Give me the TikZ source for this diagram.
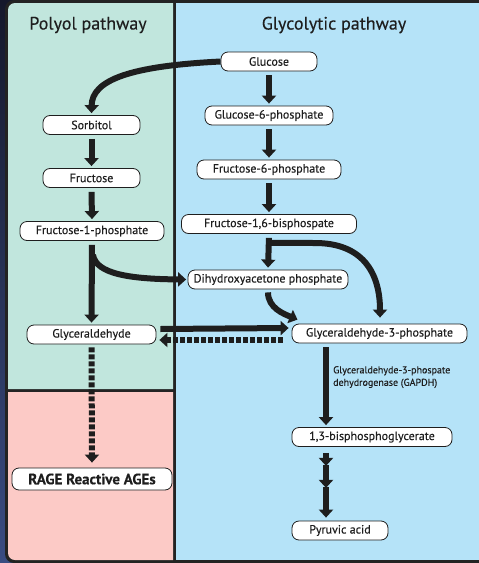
\documentclass[tikz,border=0pt]{standalone}
\usepackage{fontspec}
\setmainfont{PT Sans}[FakeBold=0.3]
\usetikzlibrary{arrows.meta,calc}
\definecolor{navytop}{HTML}{15182B}
\definecolor{navybot}{HTML}{3A4C82}
\definecolor{framec}{HTML}{232323}
\definecolor{polyolc}{HTML}{C1E6DD}
\definecolor{agec}{HTML}{FCCAC6}
\definecolor{glycc}{HTML}{B5E3F8}
\definecolor{inkc}{HTML}{1E1E1E}
\begin{document}
\begin{tikzpicture}[x=1pt,y=-1pt,
  pill/.style={draw=inkc, line width=0.8pt, fill=white, rounded corners=7pt,
    minimum height=19pt, inner sep=0pt, text=inkc, font=\fontsize{12}{13}\selectfont},
  arr/.style={draw=inkc, line width=6pt, -{Triangle[length=8pt,width=14pt]}},
  dasharr/.style={arr, dash pattern=on 5pt off 2pt},
  ttl/.style={text=inkc, font=\fontsize{18}{20}\selectfont, inner sep=0pt},
  lbl/.style={text=inkc, font=\fontsize{10}{12.5}\selectfont, align=left, inner sep=0pt, anchor=north west}]
\useasboundingbox (0,0) rectangle (479,563);
% background and panels
\shade[top color=navytop, bottom color=navybot] (0,0) rectangle (479,563);
\fill[framec, rounded corners=9pt] (5,0) rectangle (490,563);
\fill[polyolc] (8,389) [rounded corners=7pt] -- (8,3) [sharp corners] -- (173,3) -- (173,389) -- cycle;
\fill[agec] (8,392) [rounded corners=7pt] -- (8,560) [sharp corners] -- (173,560) -- (173,392) -- cycle;
\fill[glycc] (176,3) rectangle (479,560);
% titles
\node[ttl] (tpol) at (88,25) {Polyol pathway};
\node[ttl] (tgly) at (334,25) {Glycolytic pathway};
% glycolytic nodes
\node[pill, minimum width=96pt] (glc) at (269,61.5) {Glucose};
\node[pill, minimum width=128pt] (g6p) at (269,115.5) {Glucose-6-phosphate};
\node[pill, minimum width=144pt] (f6p) at (269,169.5) {Fructose-6-phosphate};
\node[pill, minimum width=175pt] (f16) at (269,224) {Fructose-1,6-bisphospate};
\node[pill, minimum width=160pt] (dhap) at (268,279.5) {Dihydroxyacetone phosphate};
\node[pill, minimum width=175pt] (g3p) at (379.5,333.5) {Glyceraldehyde-3-phosphate};
\node[pill, minimum width=160pt] (bpg) at (372,437) {1,3-bisphosphoglycerate};
\node[pill, minimum width=96pt] (pyr) at (340,530.5) {Pyruvic acid};
\node[lbl] (gapdh) at (333,366) {Glyceraldehyde-3-phospate\\dehydrogenase (GAPDH)};
% polyol nodes
\node[pill, minimum width=97pt] (sorb) at (91.5,125) {Sorbitol};
\node[pill, minimum width=97pt] (fru) at (91.5,178) {Fructose};
\node[pill, minimum width=144pt] (f1p) at (92,231) {Fructose-1-phosphate};
\node[pill, minimum width=129pt] (gald) at (91.5,334.5) {Glyceraldehyde};
\node[pill, minimum width=160pt, minimum height=22pt, font=\fontsize{15}{16}\selectfont\bfseries] (rage) at (92,479) {RAGE Reactive AGEs};
% connectors: glycolysis
\draw[arr] (glc.west) .. controls (130,66) and (92,80) .. ([yshift=2pt]sorb.north);
\draw[arr] ([yshift=-4pt]glc.south) -- ([yshift=2pt]g6p.north);
\draw[arr] ([yshift=-4pt]g6p.south) -- ([yshift=2pt]f6p.north);
\draw[arr] ([yshift=-4pt]f6p.south) -- ([yshift=2pt]f16.north);
\draw[arr] ([yshift=-4pt]f16.south) -- ([yshift=2pt]dhap.north);
\coordinate (f16b) at ($(f16.south)+(0,9)$);
\draw[arr] ([xshift=-3pt]f16b) -- (315,243) .. controls (362,243) and (380,272) .. ([xshift=0.5pt,yshift=6pt]g3p.north);
\draw[arr] ([yshift=-3pt]dhap.south) .. controls (268,308) and (284,314) .. ([xshift=-82pt,yshift=4pt]g3p.north);
\draw[arr] ([xshift=-53.5pt,yshift=-4pt]g3p.south) -- ([xshift=-46pt,yshift=2pt]bpg.north);
\coordinate (c1) at ($(bpg.south)+(-46,18)$);
\coordinate (c2) at ($(bpg.south)+(-46,40)$);
\draw[arr] ([xshift=-46pt,yshift=-6pt]bpg.south) -- ([yshift=-1pt]c1);
\draw[arr] (c1) -- ([yshift=-1pt]c2);
\draw[arr] (c2) -- ([xshift=-14pt,yshift=3pt]pyr.north);
% connectors: polyol
\draw[arr] ([yshift=-4pt]sorb.south) -- ([yshift=2pt]fru.north);
\draw[arr] ([yshift=-4pt]fru.south) -- ([yshift=2pt]f1p.north);
\draw[arr] ([yshift=-4pt]f1p.south) -- ([yshift=2pt]gald.north);
\draw[arr] ($(f1p.south)+(1,14)$) .. controls (96,274) and (130,279) .. ([xshift=-1.5pt]dhap.west);
\draw[arr] ([xshift=4pt,yshift=5.5pt]gald.east) -- ([xshift=-3pt,yshift=5.5pt]g3p.west);
\draw[dasharr] ([xshift=-9pt,yshift=-6.5pt]g3p.west) -- ([xshift=3pt,yshift=-5.5pt]gald.east);
\draw[dasharr] ([yshift=-3pt]gald.south) -- ([yshift=5pt]rage.north);
\end{tikzpicture}
\end{document}
